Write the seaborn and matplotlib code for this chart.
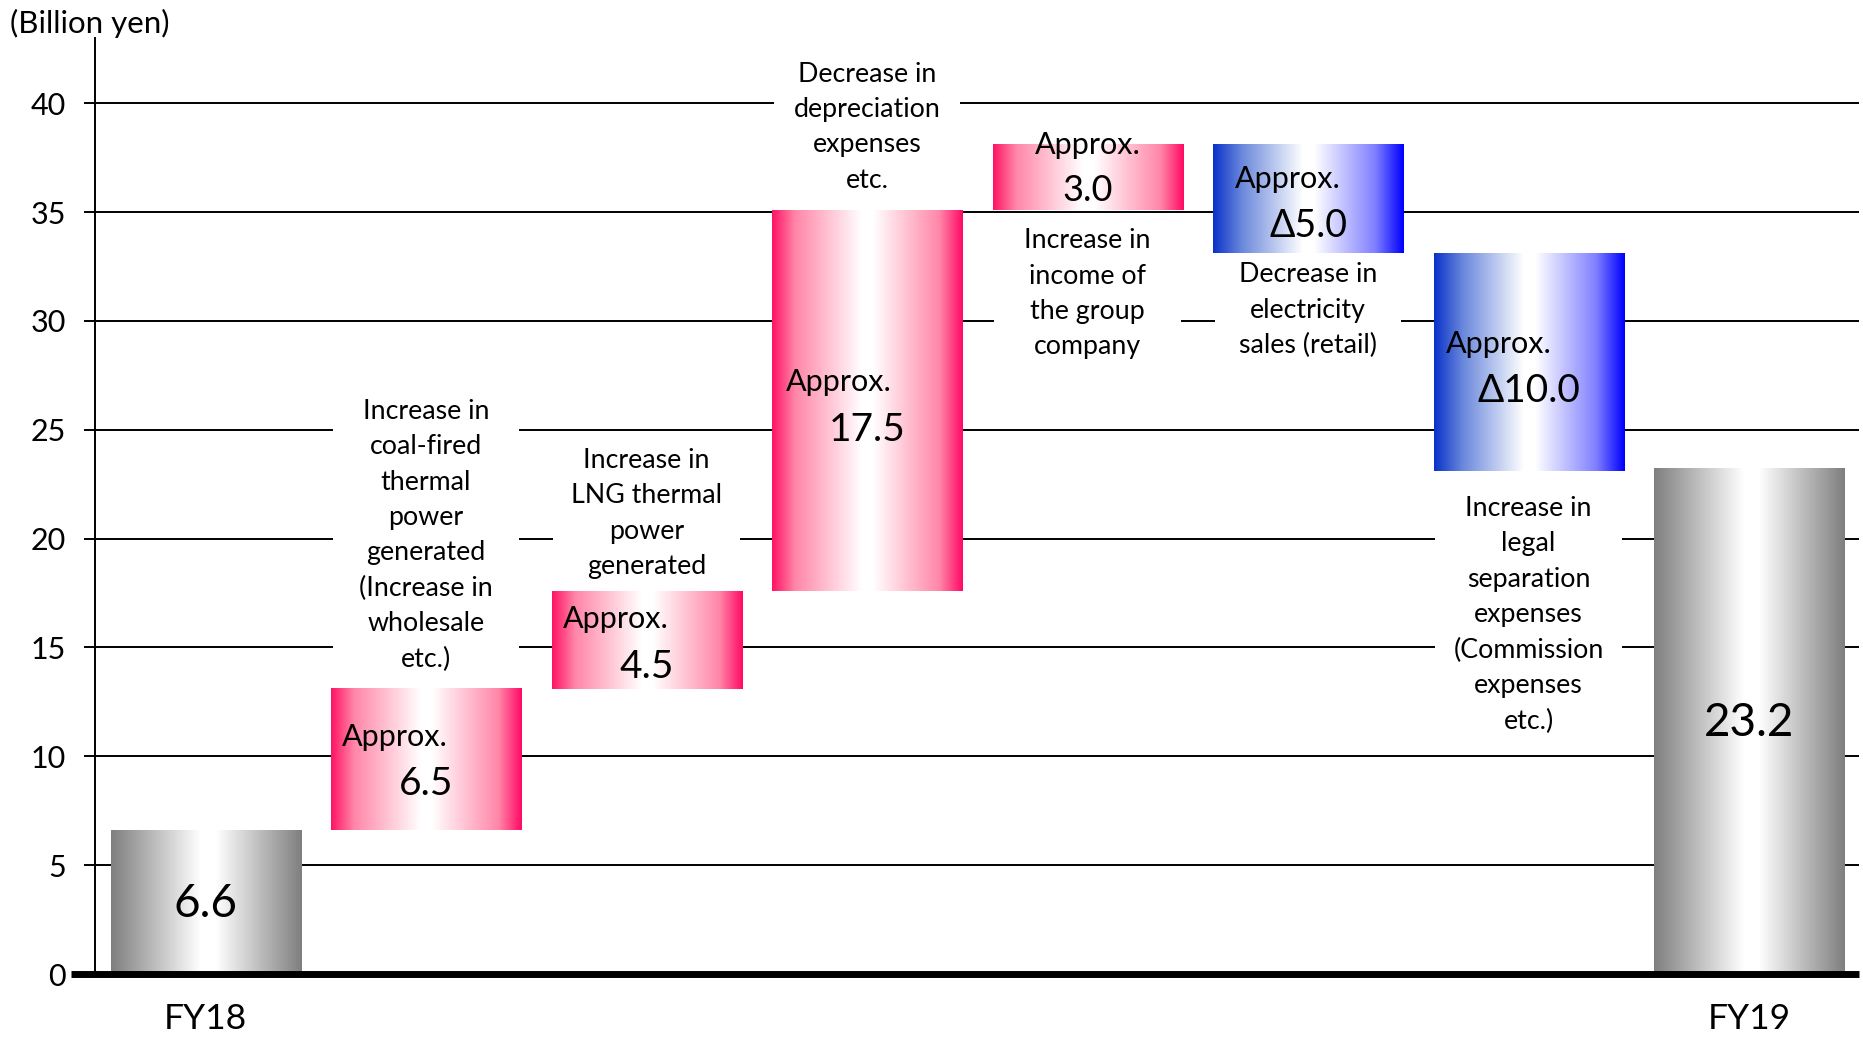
import numpy as np
import pandas as pd
import matplotlib
matplotlib.use("Agg")
import matplotlib.pyplot as plt
import seaborn as sns
from matplotlib.colors import LinearSegmentedColormap
from matplotlib.patches import Rectangle

# ---------------- data ----------------
steps = ["FY18", "Coal-fired thermal", "LNG thermal", "Depreciation",
         "Group company", "Retail sales", "Legal separation", "FY19"]
step_kind = ["total", "up", "up", "up", "up", "down", "down", "total"]
step_values = [6.6, 6.5, 4.5, 17.5, 3.0, -5.0, -10.0, 23.2]
value_text = ["6.6", "6.5", "4.5", "17.5", "3.0", "Δ5.0", "Δ10.0", "23.2"]
descriptions = [
    "",
    "Increase in\ncoal-fired\nthermal\npower\ngenerated\n(Increase in\nwholesale\netc.)",
    "Increase in\nLNG thermal\npower\ngenerated",
    "Decrease in\ndepreciation\nexpenses\netc.",
    "Increase in\nincome of\nthe group\ncompany",
    "Decrease in\nelectricity\nsales (retail)",
    "Increase in\nlegal\nseparation\nexpenses\n(Commission\nexpenses\netc.)",
    "",
]
xtick_text = ["FY18", "", "", "", "", "", "", "FY19"]
y_ticks = [0, 5, 10, 15, 20, 25, 30, 35, 40]
unit_label = "(Billion yen)"

# waterfall geometry derived from the values
bottoms, heights = [], []
running = 0.0
for kind, v in zip(step_kind, step_values):
    if kind == "total":
        bottoms.append(0.0)
        heights.append(v)
        running = v
    else:
        bottoms.append(running)
        heights.append(v)
        running += v

# ---------------- layout / style ----------------
approx_y = [None, 10.9, 16.3, 27.2, 38.07, 36.5, 28.96, None]
approx_dx = [None, 0.05, 0.05, 0.065, 0.19, 0.10, 0.054, None]
number_y = [3.2, 8.72, 14.12, 25.0, 36.0, 34.35, 26.8, 11.55]
number_size = [33, 28, 28, 28, 26, 27, 28, 33]
desc_y = [None, 20.15, 21.16, 38.9, 31.25, 30.5, 16.5, None]
bar_width = 0.862

sns.set_style("white")
plt.rcParams["font.family"] = ["Lato", "DejaVu Sans"]

W, H = 1863, 1037
fig = plt.figure(figsize=(W / 100, H / 100), dpi=100)
ax = fig.add_axes([95.3 / W, 63 / H, 1764 / W, 936 / H])

df = pd.DataFrame({"step": steps, "height": heights})
sns.barplot(data=df, x="step", y="height", bottom=np.array(bottoms),
            width=bar_width, color="white", saturation=1, linewidth=0,
            errorbar=None, ax=ax)

cmaps = {
    "total": LinearSegmentedColormap.from_list(
        "g", [(0, "#7f7f7f"), (0.47, "#ffffff"), (0.55, "#ffffff"), (1, "#7f7f7f")]),
    "up": LinearSegmentedColormap.from_list(
        "p", [(0, "#ff1464"), (0.12, "#ff86a8"), (0.47, "#ffffff"),
              (0.53, "#ffffff"), (0.88, "#ff86a8"), (1, "#ff0a64")]),
    "down": LinearSegmentedColormap.from_list(
        "b", [(0, "#0a32c8"), (0.15, "#6a88dc"), (0.47, "#ffffff"),
              (0.53, "#ffffff"), (0.85, "#8080ff"), (1, "#0000ff")]),
}
grad = np.linspace(0, 1, 256)[None, :]
for patch, kind in zip(ax.patches, step_kind):
    x0, w = patch.get_x(), patch.get_width()
    y0, h = patch.get_y(), patch.get_height()
    ylo, yhi = min(y0, y0 + h), max(y0, y0 + h)
    ax.imshow(grad, cmap=cmaps[kind], extent=[x0, x0 + w, ylo, yhi],
              aspect="auto", interpolation="bilinear", origin="lower", zorder=2)
    patch.set_facecolor("none")
    patch.set_edgecolor("none")

ax.set_xlim(-0.5, len(steps) - 0.5)
ax.set_ylim(0, 43)
ax.set_yticks(y_ticks)
ax.set_xticks(range(len(steps)))
ax.set_xticklabels(xtick_text)
ax.set_xlabel("")
ax.set_ylabel("")

for s in ["top", "right", "bottom"]:
    ax.spines[s].set_visible(False)
ax.spines["left"].set_color("black")
ax.spines["left"].set_linewidth(1.4)
ax.tick_params(axis="y", length=8, width=1.4, color="black", pad=13,
               labelsize=22, labelcolor="black", left=True, direction="out")
ax.tick_params(axis="x", length=0, pad=21, labelsize=25.5, labelcolor="black")
ax.yaxis.grid(True, color="black", linewidth=1.4)
ax.xaxis.grid(False)
ax.set_axisbelow(True)

ax.axhline(0, xmin=-0.0136, xmax=1, color="black", lw=5, clip_on=False,
           zorder=4, solid_capstyle="butt")

# value labels
for i in range(len(steps)):
    ax.text(i, number_y[i], value_text[i], ha="center", va="center",
            fontsize=number_size[i], color="black", zorder=5)
    if approx_y[i] is not None:
        ax.text(i - bar_width / 2 + approx_dx[i], approx_y[i], "Approx.",
                ha="left", va="center", fontsize=22, color="black", zorder=5)

# description labels
desc_objs = []
for i, d in enumerate(descriptions):
    if d:
        t = ax.text(i, desc_y[i], d, ha="center", va="center", fontsize=19.3,
                    linespacing=1.52, color="black", zorder=1.5)
        desc_objs.append((i, t))

fig.text(10 / W, 1 - 23 / H, unit_label, ha="left", va="center",
         fontsize=22.5, color="black")

fig.canvas.draw()
r = fig.canvas.get_renderer()
inv = ax.transData.inverted()
box_w = 0.845
for i, t in desc_objs:
    bb = t.get_window_extent(r)
    _, y0d = inv.transform((bb.x0, bb.y0 - 6))
    _, y1d = inv.transform((bb.x1, bb.y1 + 6))
    ax.add_patch(Rectangle((i - box_w / 2, y0d), box_w, y1d - y0d,
                           facecolor="white", edgecolor="none", zorder=1))

fig.savefig("out.png", dpi=100)
